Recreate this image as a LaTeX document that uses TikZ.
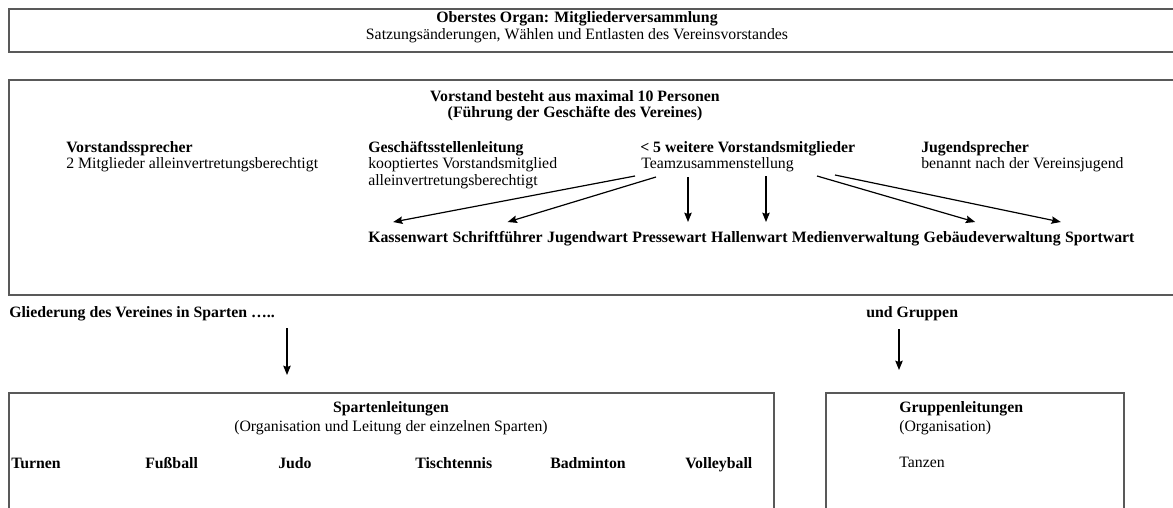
\documentclass[tikz,border=0pt]{standalone}
\usepackage{fontspec}
\setmainfont{Liberation Serif}
\usetikzlibrary{arrows.meta,calc}
\newcommand\fsz{\fontsize{11.85}{14}\selectfont}
\begin{document}
\begin{tikzpicture}[x=0.75pt,y=-0.75pt,
  box/.style={draw=black!65, line width=1.1pt},
  txt/.style={inner sep=0pt, anchor=base west, font=\fsz},
  bft/.style={inner sep=0pt, anchor=base west, font=\fsz\bfseries},
  ctr/.style={inner sep=0pt, anchor=base, font=\fsz},
  ctb/.style={inner sep=0pt, anchor=base, font=\fsz\bfseries},
  arr/.style={-{Stealth[length=7pt,width=5.6pt,inset=1pt]}, line width=0.9pt, black}]
\useasboundingbox (0,0) rectangle (1173,507);
\clip (0,0) rectangle (1173,507);
\fill[white] (0,0) rectangle (1173,507);

% boxes
\draw[box] (9,9) rectangle (1200,52);
\draw[box] (9,80) rectangle (1200,295);
\draw[box] (9,393) rectangle (774,540);
\draw[box] (826,393) rectangle (1124,540);

% top box
\node[ctb] (org) at (577,22) {Oberstes Organ: Mitgliederversammlung};
\node[ctr] (satz) at (577,39) {Satzungsänderungen, Wählen und Entlasten des Vereinsvorstandes};

% Vorstand
\node[ctb] (vor) at (575,101) {Vorstand besteht aus maximal 10 Personen};
\node[ctb] (fuehr) at (575,117) {(Führung der Geschäfte des Vereines)};

\node[bft] (vsp) at (66,152) {Vorstandssprecher};
\node[txt] (vsp2) at (66,168) {2 Mitglieder alleinvertretungsberechtigt};

\node[bft] (gsl) at (368,152) {Geschäftsstellenleitung};
\node[txt] (gsl2) at (368,168) {kooptiertes Vorstandsmitglied};
\node[txt] (gsl3) at (368,185) {alleinvertretungsberechtigt};

\node[bft] (wvm) at (640,152) {< 5 weitere Vorstandsmitglieder};
\node[txt] (team) at (641,168) {Teamzusammenstellung};

\node[bft] (jsp) at (921,152) {Jugendsprecher};
\node[txt] (jsp2) at (921,168) {benannt nach der Vereinsjugend};

% row of functions
\node[bft] (kasse) at (368,242) {Kassenwart};
\node[bft, anchor=base west] (schrift) at ([xshift=2.95pt]kasse.base east) {Schriftführer};
\node[bft, anchor=base west] (jugw) at ([xshift=2.95pt]schrift.base east) {Jugendwart};
\node[bft, anchor=base west] (presse) at ([xshift=2.95pt]jugw.base east) {Pressewart};
\node[bft, anchor=base west] (halle) at ([xshift=2.95pt]presse.base east) {Hallenwart};
\node[bft, anchor=base west] (medien) at ([xshift=2.95pt]halle.base east) {Medienverwaltung};
\node[bft, anchor=base west] (geb) at ([xshift=2.95pt]medien.base east) {Gebäudeverwaltung};
\node[bft, anchor=base west] (sport) at ([xshift=2.95pt]geb.base east) {Sportwart};

% arrows from team
\coordinate (s1) at ($(team.base west)+(-6,8)$);
\coordinate (s2) at ($(team.base west)+(15,9)$);
\coordinate (s3) at ($(team.base west)+(47,9)$);
\coordinate (s4) at ($(team.base west)+(125,8)$);
\coordinate (s5) at ($(team.base west)+(176,8)$);
\coordinate (s6) at ($(team.base west)+(194,7)$);
\coordinate (e1) at ($(kasse.base)+(-15,-20)$);
\coordinate (e2) at ($(schrift.base)+(10,-20)$);
\coordinate (e3) at ($(presse.base)+(18,-20)$);
\coordinate (e4) at ($(halle.base)+(14,-20)$);
\coordinate (e5) at ($(geb.base)+(-17,-20)$);
\coordinate (e6) at ($(sport.base)+(-39,-20)$);
\draw[arr] (s1) -- (e1);
\draw[arr] (s2) -- (e2);
\draw[arr] (s3) -- (s3 |- e3);
\draw[arr] (s4) -- (s4 |- e4);
\draw[arr] (s5) -- (e5);
\draw[arr] (s6) -- (e6);

% lower part
\node[bft] (glied) at (9,317) {Gliederung des Vereines in Sparten …..};
\node[bft] (undg) at (866,317) {und Gruppen};
\coordinate (ga) at (287,328);
\coordinate (gb) at (287,375);
\coordinate (ua) at (899,329);
\coordinate (ub) at (899,370);
\draw[arr] (ga) -- (gb);
\draw[arr] (ua) -- (ub);

% Sparten box
\node[ctb] (spl) at (391,412) {Spartenleitungen};
\node[ctr] (spl2) at (391,431) {(Organisation und Leitung der einzelnen Sparten)};
\node[bft] (turnen) at (11,468) {Turnen};
\node[bft] (fuss) at (145,468) {Fußball};
\node[bft] (judo) at (278,468) {Judo};
\node[bft] (tisch) at (415,468) {Tischtennis};
\node[bft] (badm) at (550,468) {Badminton};
\node[bft] (volley) at (685,468) {Volleyball};

% Gruppen box
\node[bft] (grl) at (899,412) {Gruppenleitungen};
\node[txt] (grl2) at (899,431) {(Organisation)};
\node[txt] (tanz) at (899,467) {Tanzen};
\end{tikzpicture}
\end{document}
